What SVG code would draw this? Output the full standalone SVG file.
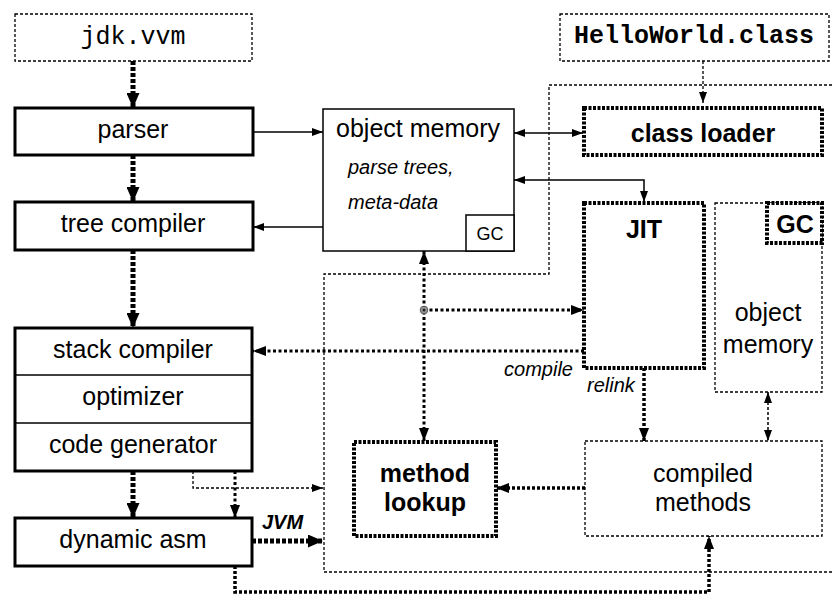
<svg xmlns="http://www.w3.org/2000/svg" width="832" height="596" viewBox="0 0 832 596">
  <defs>
    <style>
      text { font-family: "Liberation Sans", Arial, sans-serif; fill: #000; }
      .lbl { font-size: 25px; text-anchor: middle; }
      .bold { font-weight: bold; }
      .ital { font-size: 20px; font-style: italic; }
      .mono { font-family: "Liberation Mono", "Courier New", monospace; font-size: 25px; text-anchor: middle; }
      .box-solid { fill: #fff; stroke: #000; stroke-width: 3; }
      .box-thin { fill: #fff; stroke: #000; stroke-width: 1.5; }
      .box-dot { fill: #fff; stroke: #000; stroke-width: 1.3; stroke-dasharray: 3 2; }
      .box-heavy { fill: #fff; stroke: #000; stroke-width: 4; stroke-dasharray: 3 1.5; }
      .c-solid { fill: none; stroke: #000; stroke-width: 1.5; }
      .c-thin { fill: none; stroke: #000; stroke-width: 1.3; stroke-dasharray: 3 2; }
      .c-mid { fill: none; stroke: #000; stroke-width: 3; stroke-dasharray: 3 2.5; }
      .c-heavy { fill: none; stroke: #000; stroke-width: 3.5; stroke-dasharray: 3 2; }
      .c-xheavy { fill: none; stroke: #000; stroke-width: 5; stroke-dasharray: 4 2; }
      .c-dash { fill: none; stroke: #000; stroke-width: 1.5; stroke-dasharray: 3 2; }
    </style>
    <marker id="ah-big" markerUnits="userSpaceOnUse" markerWidth="15" markerHeight="13" refX="15" refY="6.5" orient="auto-start-reverse">
      <path d="M0,0 L15,6.5 L0,13 z" fill="#000"/>
    </marker>
    <marker id="ah-mid" markerUnits="userSpaceOnUse" markerWidth="13" markerHeight="10" refX="13" refY="5" orient="auto-start-reverse">
      <path d="M0,0 L13,5 L0,10 z" fill="#000"/>
    </marker>
    <marker id="ah-small" markerUnits="userSpaceOnUse" markerWidth="11" markerHeight="8" refX="11" refY="4" orient="auto-start-reverse">
      <path d="M0,0 L11,4 L0,8 z" fill="#000"/>
    </marker>
  </defs>

  <!-- runtime boundary -->
  <path id="runtime-region" d="M832,85 H549 V274 H324 V572 H832" class="c-thin"/>

  <!-- compiler pipeline -->
  <g id="jdk-vvm">
    <rect x="15" y="14" width="237" height="47" class="box-dot"/>
    <text x="133" y="44" class="mono">jdk.vvm</text>
  </g>
  <g id="parser">
    <rect x="15" y="108" width="238" height="47" class="box-solid"/>
    <text x="133" y="138" class="lbl">parser</text>
  </g>
  <g id="tree-compiler">
    <rect x="15" y="202" width="238" height="48" class="box-solid"/>
    <text x="133" y="232" class="lbl">tree compiler</text>
  </g>
  <g id="stack-compiler">
    <rect x="15" y="328" width="237" height="143" class="box-solid"/>
    <line x1="15" y1="375" x2="252" y2="375" stroke="#000" stroke-width="1.5"/>
    <line x1="15" y1="423" x2="252" y2="423" stroke="#000" stroke-width="1.5"/>
    <text x="133" y="358" class="lbl">stack compiler</text>
    <text x="133" y="405" class="lbl">optimizer</text>
    <text x="133" y="453" class="lbl">code generator</text>
  </g>
  <g id="dynamic-asm">
    <rect x="15" y="518" width="237" height="48" class="box-solid"/>
    <text x="133" y="548" class="lbl">dynamic asm</text>
  </g>

  <!-- shared object memory -->
  <g id="object-memory">
    <rect x="323" y="109" width="191" height="142" class="box-thin"/>
    <text x="418" y="137" class="lbl">object memory</text>
    <text x="348" y="174" class="ital">parse trees,</text>
    <text x="348" y="209" class="ital">meta-data</text>
    <rect x="466" y="215" width="48" height="36" class="box-thin"/>
    <text x="490" y="240" font-size="18" text-anchor="middle">GC</text>
  </g>

  <!-- JVM side -->
  <g id="helloworld-class">
    <rect x="560" y="14" width="269" height="47" class="box-dot"/>
    <text x="694" y="43" class="mono bold">HelloWorld.class</text>
  </g>
  <g id="class-loader">
    <rect x="584" y="108" width="238" height="47" class="box-heavy"/>
    <text x="703" y="142" class="lbl bold">class loader</text>
  </g>
  <g id="jit">
    <rect x="584" y="203" width="120" height="165" class="box-heavy"/>
    <text x="644" y="238" class="lbl bold">JIT</text>
  </g>
  <g id="jvm-object-memory">
    <rect x="715" y="203" width="107" height="189" class="box-dot"/>
    <rect x="767" y="203" width="55" height="40" class="box-heavy"/>
    <text x="795" y="233" class="lbl bold">GC</text>
    <text x="768" y="321" class="lbl">object</text>
    <text x="768" y="353" class="lbl">memory</text>
  </g>
  <g id="method-lookup">
    <rect x="354" y="442" width="142" height="94" class="box-heavy"/>
    <text x="425" y="482" class="lbl bold">method</text>
    <text x="425" y="511" class="lbl bold">lookup</text>
  </g>
  <g id="compiled-methods">
    <rect x="585" y="441" width="237" height="95" class="box-dot"/>
    <text x="703" y="482" class="lbl">compiled</text>
    <text x="703" y="511" class="lbl">methods</text>
  </g>

  <!-- connectors -->
  <g id="connectors">
    <path d="M133,61 V108" class="c-xheavy" marker-end="url(#ah-big)"/>
    <path d="M133,155 V202" class="c-xheavy" marker-end="url(#ah-big)"/>
    <path d="M133,250 V328" class="c-xheavy" marker-end="url(#ah-big)"/>
    <path d="M133,471 V518" class="c-xheavy" marker-end="url(#ah-big)"/>
    <path d="M235,471 V518" class="c-mid" marker-end="url(#ah-mid)"/>
    <path d="M193,471 V488 H323" class="c-thin" marker-end="url(#ah-small)"/>
    <path d="M252,541 H323" class="c-xheavy" marker-end="url(#ah-big)"/>
    <path d="M235,566 V592 H709 V536" class="c-heavy" marker-end="url(#ah-mid)"/>

    <path d="M253,132 H323" class="c-solid" marker-end="url(#ah-small)"/>
    <path d="M323,227 H253" class="c-solid" marker-end="url(#ah-small)"/>
    <path d="M514,133 H583" class="c-solid" marker-start="url(#ah-small)" marker-end="url(#ah-small)"/>
    <path d="M514,180 H644 V202" class="c-solid" marker-start="url(#ah-small)" marker-end="url(#ah-small)"/>
    <path d="M703,61 V103" class="c-thin" marker-end="url(#ah-small)"/>

    <path d="M424,251 V441" class="c-mid" marker-start="url(#ah-mid)" marker-end="url(#ah-mid)"/>
    <path d="M424,310 H584" class="c-mid" marker-end="url(#ah-mid)"/>
    <circle cx="424" cy="310" r="3.8" fill="#999" stroke="#555" stroke-width="1"/>
    <circle cx="424" cy="310" r="1.5" fill="#222"/>
    <path d="M584,351 H253" class="c-mid" marker-end="url(#ah-mid)"/>
    <text x="573" y="376" class="ital" text-anchor="end">compile</text>

    <path d="M644,368 V441" class="c-heavy" marker-end="url(#ah-mid)"/>
    <text x="587" y="392" class="ital">relink</text>

    <path d="M768,392 V441" class="c-dash" marker-start="url(#ah-small)" marker-end="url(#ah-small)"/>
    <path d="M585,488 H496" class="c-heavy" marker-end="url(#ah-mid)"/>
    <text x="262" y="529" class="ital bold">JVM</text>
  </g>
</svg>
